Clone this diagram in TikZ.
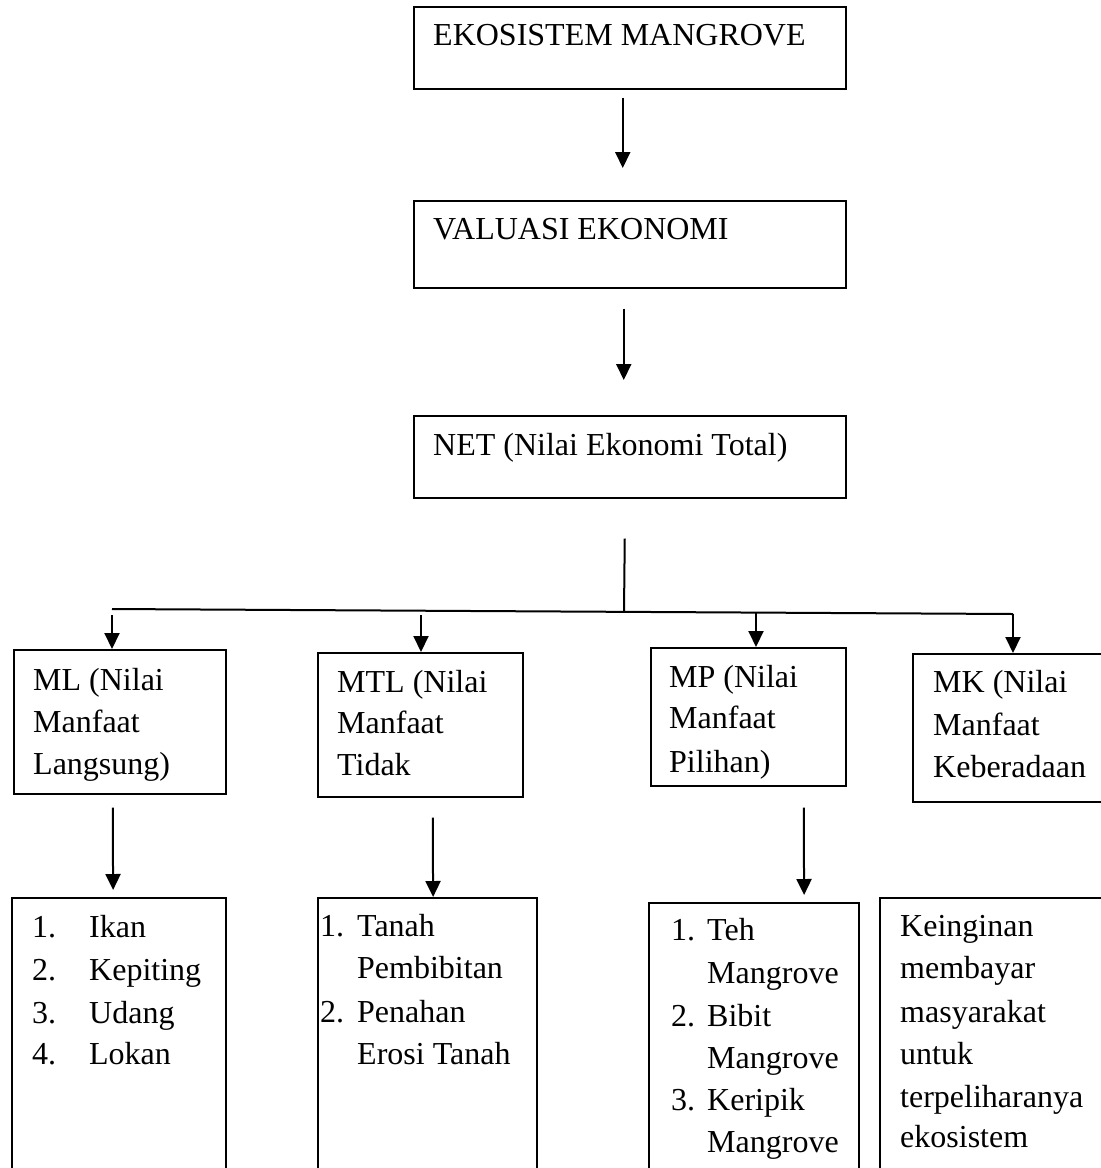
\documentclass[tikz,border=0pt]{standalone}
\usepackage{fontspec}
\setmainfont{Liberation Serif}
\usetikzlibrary{arrows.meta,calc}
\begin{document}
\begin{tikzpicture}[x=1pt,y=-1pt,
  box/.style={draw,line width=1.5pt,inner sep=0pt,anchor=north west},
  obox/.style={draw,line width=2.2pt,inner sep=0pt,anchor=north west,minimum height=400pt},
  txt/.style={anchor=base west,inner sep=0pt,font=\fontsize{32}{38}\selectfont},
  arr/.style={line width=2pt,-{Triangle[length=16pt,width=15pt]}},
  conn/.style={line width=2pt}]
\useasboundingbox (0,0) rectangle (1101,1168);
\clip (0,0) rectangle (1101,1168);
% top boxes
\node[box,minimum width=432pt,minimum height=82pt] (eko) at (413,6) {};
\node[box,minimum width=432pt,minimum height=87pt] (val) at (413,200) {};
\node[box,minimum width=432pt,minimum height=82pt] (net) at (413,415) {};
\node[txt] (teko) at (433,45) {EKOSISTEM MANGROVE};
\node[txt] (tval) at (433,239) {VALUASI EKONOMI};
\node[txt] (tnet) at (433,455) {NET (Nilai Ekonomi Total)};
\draw[arr] ([xshift=-7pt,yshift=-8pt]eko.south) -- ([xshift=-7pt,yshift=32pt]val.north);
\draw[arr] ([xshift=-6pt,yshift=-20pt]val.south) -- ([xshift=-6pt,yshift=35pt]net.north);
% bar
\coordinate (bl) at (112,609);
\coordinate (br) at (1013,614);
\coordinate (j) at (624,612);
\coordinate (b2) at (421,613);
\coordinate (b3) at (756,612);
\draw[conn] ([xshift=-5pt,yshift=-40pt]net.south) -- (j);
\draw[conn] (bl) -- (br);
% middle boxes
\node[box,minimum width=212pt,minimum height=144pt] (ml) at (13,649) {};
\node[box,minimum width=205pt,minimum height=144pt] (mtl) at (317,652) {};
\node[box,minimum width=195pt,minimum height=138pt] (mp) at (650,647) {};
\node[box,minimum width=250pt,minimum height=148pt] (mk) at (912,653) {};
\draw[arr] ([yshift=-6pt]bl) -- (bl |- ml.north);
\draw[arr] ([yshift=-2pt]b2) -- (b2 |- mtl.north);
\draw[arr] (b3) -- (b3 |- mp.north);
\draw[arr] (br) -- (br |- mk.north);
\node[txt] (ml1) at (33,690) {ML (Nilai};
\node[txt] (ml2) at (33,732) {Manfaat};
\node[txt] (ml3) at (33,774) {Langsung)};
\node[txt] (mtl1) at (337,692) {MTL (Nilai};
\node[txt] (mtl2) at (337,733) {Manfaat};
\node[txt] (mtl3) at (337,775) {Tidak};
\node[txt] (mp1) at (669,687) {MP (Nilai};
\node[txt] (mp2) at (669,728) {Manfaat};
\node[txt] (mp3) at (669,772) {Pilihan)};
\node[txt] (mk1) at (933,692) {MK (Nilai};
\node[txt] (mk2) at (933,735) {Manfaat};
\node[txt] (mk3) at (933,777) {Keberadaan};
% bottom boxes
\node[obox,minimum width=214pt] (mlb) at (11,897) {};
\node[obox,minimum width=219pt] (mtlb) at (317,897) {};
\node[obox,minimum width=210pt] (mpb) at (648,902) {};
\node[obox,minimum width=300pt] (mkb) at (879,897) {};
\draw[arr] ([xshift=-7pt,yshift=-13pt]ml.south) -- ([xshift=-6pt,yshift=7pt]mlb.north);
\draw[arr] ([xshift=12.5pt,yshift=-20pt]mtl.south) -- ([xshift=5.5pt]mtlb.north);
\draw[arr] ([xshift=55.5pt,yshift=-21pt]mp.south) -- ([xshift=50pt,yshift=7pt]mpb.north);
% bottom texts
\node[txt] (l1) at (32,937) {\makebox[57pt][l]{1.}Ikan};
\node[txt] (l2) at (32,980) {\makebox[57pt][l]{2.}Kepiting};
\node[txt] (l3) at (32,1023) {\makebox[57pt][l]{3.}Udang};
\node[txt] (l4) at (32,1064) {\makebox[57pt][l]{4.}Lokan};
\node[txt] (t1) at (320,936) {\makebox[37pt][l]{1.}Tanah};
\node[txt] (t2) at (357,978) {Pembibitan};
\node[txt] (t3) at (320,1022) {\makebox[37pt][l]{2.}Penahan};
\node[txt] (t4) at (357,1064) {Erosi Tanah};
\node[txt] (p1) at (671,940) {\makebox[36pt][l]{1.}Teh};
\node[txt] (p2) at (707,983) {Mangrove};
\node[txt] (p3) at (671,1026) {\makebox[36pt][l]{2.}Bibit};
\node[txt] (p4) at (707,1068) {Mangrove};
\node[txt] (p5) at (671,1110) {\makebox[36pt][l]{3.}Keripik};
\node[txt] (p6) at (707,1152) {Mangrove};
\node[txt] (k1) at (900,936) {Keinginan};
\node[txt] (k2) at (900,978) {membayar};
\node[txt] (k3) at (900,1022) {masyarakat};
\node[txt] (k4) at (900,1064) {untuk};
\node[txt] (k5) at (900,1107) {terpeliharanya};
\node[txt] (k6) at (900,1147) {ekosistem};
\end{tikzpicture}
\end{document}
